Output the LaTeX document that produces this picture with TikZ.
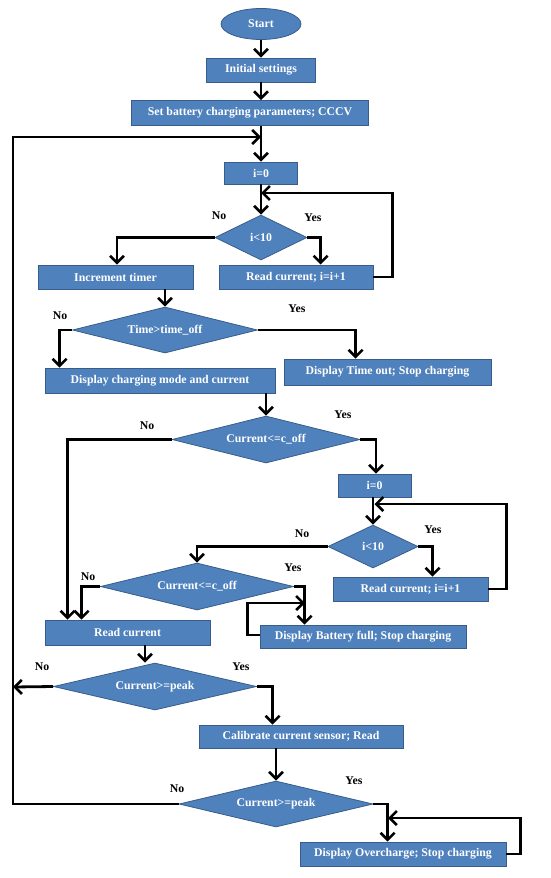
\documentclass[tikz,border=0pt]{standalone}
\usepackage{fontspec}
\setmainfont{Liberation Serif}
\usetikzlibrary{shapes.geometric,arrows.meta}
\definecolor{boxfill}{HTML}{4F81BD}
\definecolor{boxline}{HTML}{385D8A}
\tikzset{
  blk/.style={draw=boxline,fill=boxfill,line width=0.8pt,text=white,font=\fontsize{11.8}{13}\selectfont\bfseries,inner sep=0pt},
  rbox/.style={blk,rectangle,minimum width=#1,minimum height=24pt},
  dia/.style={blk,diamond,shape aspect=4},
  lab/.style={font=\fontsize{11.8}{13}\selectfont\bfseries,inner sep=0pt},
  conn/.style={line width=2.8pt,-{Straight Barb[length=7pt,width=14pt,line width=2.6pt]}},
  plain/.style={line width=2.8pt}
}
\begin{document}
\begin{tikzpicture}[x=1pt,y=-1pt]
\useasboundingbox (0,0) rectangle (550,878);
% nodes
\node[blk,ellipse,minimum width=80pt,minimum height=31pt] (start) at (261,24) {Start};
\node[rbox=109pt] (init) at (261,70) {Initial settings};
\node[rbox=237pt,minimum height=25pt] (setb) at (250,113) {Set battery charging parameters; CCCV};
\node[rbox=73pt,minimum height=22pt] (i0) at (261,173) {i=0};
\node[dia,minimum width=92pt,minimum height=45pt] (d1) at (261,237.5) {i<10};
\node[rbox=155pt] (inc) at (115.5,277) {Increment timer};
\node[rbox=154pt] (rc1) at (296,277) {Read current; i=i+1};
\node[dia,minimum width=185pt,minimum height=46pt] (d2) at (165,330) {Time>time\_off};
\node[rbox=230pt,minimum height=25pt] (dcm) at (160,380.5) {Display charging mode and current};
\node[rbox=207pt,minimum height=26pt] (dto) at (387.5,372) {Display Time out; Stop charging};
\node[dia,minimum width=188pt,minimum height=47pt] (d3) at (266,439.5) {Current<=c\_off};
\node[rbox=73pt,minimum height=23pt] (i02) at (374.5,485.5) {i=0};
\node[dia,minimum width=90pt,minimum height=43pt] (d4) at (373,546.5) {i<10};
\node[rbox=155pt] (rc2) at (410.5,589) {Read current; i=i+1};
\node[dia,minimum width=193pt,minimum height=47pt] (d5) at (197,586.5) {Current<=c\_off};
\node[rbox=165pt,minimum height=25pt] (rc) at (127.5,632.5) {Read current};
\node[rbox=206pt,minimum height=23pt] (dbf) at (363,636.5) {Display Battery full; Stop charging};
\node[dia,minimum width=203pt,minimum height=47pt] (d6) at (155,686.5) {Current>=peak};
\node[rbox=204pt,minimum height=23pt] (cal) at (301,736.5) {Calibrate current sensor; Read};
\node[dia,minimum width=194pt,minimum height=46pt] (d7) at (276,804) {Current>=peak};
\node[rbox=206pt] (dov) at (403,854) {Display Overcharge; Stop charging};
% labels
\node[lab] (n1) at (219,216) {No};
\node[lab] (y1) at (313,218) {Yes};
\node[lab] (n2) at (60,316) {No};
\node[lab] (y2) at (297,309) {Yes};
\node[lab] (n3) at (147,426) {No};
\node[lab] (y3) at (343,415) {Yes};
\node[lab] (n4) at (302,534) {No};
\node[lab] (y4) at (433,530) {Yes};
\node[lab] (n5) at (88,577) {No};
\node[lab] (y5) at (293,568) {Yes};
\node[lab] (n6) at (42,667) {No};
\node[lab] (y6) at (241,667) {Yes};
\node[lab] (n7) at (177,789) {No};
\node[lab] (y7) at (354,781) {Yes};
% merge coordinates
\coordinate (m0) at (261,137);
\coordinate (m1) at (261,193);
\coordinate (m2) at (374.5,504);
\coordinate (m3) at (305,603);
\coordinate (m4) at (388,818);
\coordinate (lp) at (13,687);
% connectors
\draw[conn] (start) -- (init);
\draw[conn] (init) -- (init.south |- setb.north);
\draw[conn] (setb.south -| i0.north) -- (i0.north);
\draw[conn] (i0) -- (d1);
\draw[conn] (d1.west) -| ([xshift=1.5pt]inc.north);
\draw[conn] (d1.east) -| ([xshift=102pt]rc1.north west);
\draw[conn] (rc1.east) -- ++(19,0) |- (m1);
\draw[conn] (d2.north |- inc.south) -- (d2.north);
\draw[conn] (d2.west) -| ([xshift=15pt]dcm.north west);
\draw[conn] (d2.east) -| ([xshift=72pt]dto.north west);
\draw[conn] (d3.north |- dcm.south) -- (d3.north);
\draw[conn] (d3.west) -| ([xshift=23pt]rc.north west);
\draw[conn] (d3.east) -| ([xshift=1.5pt]i02.north);
\draw[conn] ([xshift=-1.5pt]i02.south) -- (d4.north);
\draw[conn] (rc2.east) -- ++(18,0) |- (m2);
\draw[conn] (d4.west) -| (d5.north);
\draw[conn] (d4.east) -| ([xshift=100pt]rc2.north west);
\draw[conn] (d5.west) -| ([xshift=37pt]rc.north west);
\draw[conn] (d5.east) -| ([xshift=45pt]dbf.north west);
\draw[conn] ([yshift=1.5pt]dbf.west) -- ++(-12,0) |- (m3);
\draw[conn] ([xshift=17.5pt]rc.south) -- ([xshift=17.5pt]rc.south |- d6.north);
\draw[conn] (d6.west) -- (lp);
\draw[conn] (d6.east) -| ([xshift=74pt]cal.north west);
\draw[conn] (d7.north |- cal.south) -- (d7.north);
\draw[conn] (d7.west) -| (13,137) -- (m0);
\draw[conn] (d7.east) -| ([xshift=88pt]dov.north west);
\draw[conn] (dov.east) -- ++(14,0) |- (m4);
\end{tikzpicture}
\end{document}
